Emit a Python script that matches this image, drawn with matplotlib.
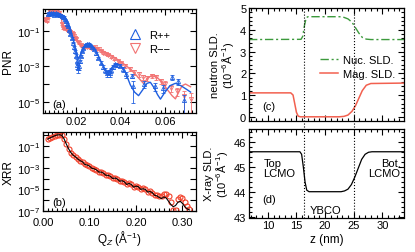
import numpy as np
import matplotlib
matplotlib.use('Agg')
import matplotlib.pyplot as plt
from matplotlib.lines import Line2D
from matplotlib.ticker import FixedLocator, MultipleLocator, FuncFormatter, NullLocator

plt.rcParams['font.family'] = ['Liberation Sans', 'DejaVu Sans']
plt.rcParams['mathtext.fontset'] = 'custom'
plt.rcParams['mathtext.rm'] = 'Liberation Sans'
plt.rcParams['mathtext.it'] = 'Liberation Sans:italic'
plt.rcParams['font.size'] = 8

# (a) PNR: R++ data and fit
pp_q = [0.0075, 0.0080, 0.0085, 0.0090, 0.0095, 0.0100, 0.0105, 0.0110, 0.0115, 0.0120,
        0.0125, 0.0130, 0.0135, 0.0140, 0.0145, 0.0150, 0.0155, 0.0160, 0.0165, 0.0170,
        0.0175, 0.0180, 0.0185, 0.0190, 0.0195, 0.0200, 0.0203, 0.0206, 0.0209, 0.0212,
        0.0216, 0.0220, 0.0226, 0.0232, 0.0240, 0.0248, 0.0256, 0.0264, 0.0272, 0.0280,
        0.0290, 0.0300, 0.0310, 0.0320, 0.0330, 0.0337, 0.0343, 0.0350, 0.0358, 0.0366,
        0.0375, 0.0385, 0.0395, 0.0410, 0.0425, 0.0450, 0.0453, 0.0503, 0.0555, 0.0590,
        0.0630, 0.0658, 0.0685]
pp_r = [0.95, 1.1, 0.9, 1.0, 1.05, 0.85, 0.95, 1.0, 0.9, 0.95,
        0.85, 0.8, 0.75, 0.65, 0.6, 0.45, 0.35, 0.25, 0.18, 0.11,
        0.07, 0.04, 0.022, 0.012, 0.007, 0.004, 0.002, 0.0012, 0.0008, 0.0011,
        0.002, 0.004, 0.007, 0.011, 0.016, 0.019, 0.018, 0.016, 0.012, 0.009,
        0.0055, 0.003, 0.0016, 0.0009, 0.0006, 0.0004, 0.0005, 0.0004, 0.0006, 0.0009,
        0.0013, 0.0012, 0.0011, 0.0007, 0.00035, 0.0003, 8e-5, 1e-4, 8e-5, 6e-5,
        2.5e-4, 1.4e-4, 1.2e-5]
pp_err = [0.1, 0.1, 0.1, 0.1, 0.1, 0.1, 0.1, 0.1, 0.1, 0.1,
          0.1, 0.1, 0.1, 0.1, 0.1, 0.1, 0.1, 0.1, 0.1, 0.1,
          0.1, 0.1, 0.1, 0.15, 0.15, 0.2, 0.3, 0.4, 0.5, 0.4,
          0.2, 0.15, 0.1, 0.1, 0.1, 0.1, 0.1, 0.1, 0.1, 0.1,
          0.15, 0.15, 0.2, 0.25, 0.3, 0.35, 0.3, 0.35, 0.3, 0.25,
          0.2, 0.2, 0.2, 0.3, 0.4, 0.3, 0.9, 0.4, 0.5, 0.5,
          0.3, 0.4, 0.99]
pp_fit_q = [0.0072, 0.0090, 0.0110, 0.0130, 0.0145, 0.0155, 0.0165, 0.0175, 0.0185, 0.0195,
            0.0203, 0.0210, 0.0216, 0.0225, 0.0240, 0.0255, 0.0270, 0.0285, 0.0300, 0.0315,
            0.0330, 0.0343, 0.0355, 0.0370, 0.0385, 0.0400, 0.0420, 0.0443, 0.0462, 0.0480,
            0.0500, 0.0518, 0.0533, 0.0550, 0.0565, 0.0578, 0.0595, 0.0620, 0.0645, 0.0670,
            0.0695, 0.0713]
pp_fit_r = [1.0, 1.05, 1.0, 0.9, 0.7, 0.5, 0.3, 0.13, 0.045, 0.013,
            0.005, 0.0028, 0.0035, 0.007, 0.015, 0.02, 0.016, 0.009, 0.004, 0.0015,
            0.0006, 0.00045, 0.0007, 0.0012, 0.0014, 0.0011, 0.0005, 9e-5, 3.5e-5, 2.2e-5,
            5e-5, 1.1e-4, 1.25e-4, 6e-5, 2.5e-5, 1.4e-5, 3e-5, 8e-5, 1.1e-4, 8e-5,
            5e-5, 3.5e-5]

# (a) PNR: R-- data and fit
mm_q = [0.0060, 0.0065, 0.0070, 0.0075, 0.0080, 0.0085, 0.0090, 0.0095, 0.0100, 0.0105,
        0.0110, 0.0115, 0.0120, 0.0125, 0.0130, 0.0135, 0.0140, 0.0145, 0.0150, 0.0155,
        0.0160, 0.0165, 0.0170, 0.0175, 0.0180, 0.0185, 0.0190, 0.0195, 0.0200, 0.0207,
        0.0214, 0.0221, 0.0228, 0.0235, 0.0242, 0.0250, 0.0258, 0.0266, 0.0275, 0.0284,
        0.0293, 0.0302, 0.0312, 0.0322, 0.0333, 0.0345, 0.0358, 0.0372, 0.0387, 0.0402,
        0.0420, 0.0440, 0.0460, 0.0480, 0.0500, 0.0520, 0.0540, 0.0560, 0.0580, 0.0600,
        0.0625, 0.0650, 0.0685, 0.0715]
mm_r = [0.4, 0.5, 0.35, 0.6, 0.9, 1.2, 1.3, 1.1, 1.25, 1.4,
        1.2, 1.3, 1.1, 1.0, 0.7, 0.25, 0.15, 0.14, 0.16, 0.13,
        0.12, 0.11, 0.10, 0.09, 0.08, 0.07, 0.05, 0.04, 0.035, 0.025,
        0.02, 0.016, 0.013, 0.012, 0.013, 0.013, 0.012, 0.011, 0.011, 0.012,
        0.010, 0.009, 0.0075, 0.006, 0.005, 0.0045, 0.0035, 0.0027, 0.002, 0.0015,
        0.0011, 7e-4, 4.5e-4, 3.5e-4, 2.5e-4, 2.2e-4, 3e-4, 2.5e-4, 1.5e-4, 1e-4,
        6e-5, 4e-5, 2e-5, 1.5e-5]
mm_err = [0.1] * 30 + [0.1, 0.1, 0.1, 0.1, 0.1, 0.1, 0.1, 0.1, 0.1, 0.1,
                       0.1, 0.1, 0.15, 0.15, 0.15, 0.15, 0.2, 0.2, 0.2, 0.2,
                       0.25, 0.25, 0.3, 0.3, 0.3, 0.3, 0.3, 0.3, 0.35, 0.4,
                       0.4, 0.5, 0.99, 0.99]
mm_fit_q = [0.0062, 0.0075, 0.0090, 0.0110, 0.0125, 0.0132, 0.0137, 0.0145, 0.0160, 0.0175,
            0.0190, 0.0205, 0.0220, 0.0235, 0.0250, 0.0265, 0.0280, 0.0295, 0.0310, 0.0330,
            0.0353, 0.0383, 0.0413, 0.0443, 0.0465, 0.0488, 0.0503, 0.0521, 0.0540, 0.0563,
            0.0585, 0.0608, 0.0630, 0.0645, 0.0660, 0.0675, 0.0690, 0.0713]
mm_fit_r = [0.45, 0.7, 1.2, 1.35, 1.25, 0.9, 0.3, 0.16, 0.12, 0.09,
            0.055, 0.03, 0.017, 0.013, 0.013, 0.012, 0.012, 0.0105, 0.0085, 0.0065,
            0.0045, 0.0026, 0.0014, 7e-4, 3.7e-4, 1.7e-4, 1.05e-4, 2.2e-4, 3e-4, 2.4e-4,
            1.25e-4, 5e-5, 2.2e-5, 1.45e-5, 3.5e-5, 8e-5, 1.0e-4, 7e-5]

# (b) XRR: data and fit (log10 of reflectivity)
xrr_q = [0.010, 0.015, 0.020, 0.025, 0.030, 0.035, 0.040, 0.045, 0.050, 0.055,
         0.060, 0.065, 0.070, 0.075, 0.080, 0.085, 0.090, 0.095, 0.100, 0.105,
         0.110, 0.115, 0.120, 0.125, 0.130, 0.135, 0.140, 0.145, 0.150, 0.155,
         0.160, 0.165, 0.170, 0.175, 0.180, 0.185, 0.190, 0.195, 0.200, 0.205,
         0.210, 0.215, 0.220, 0.225, 0.230, 0.235, 0.240, 0.245, 0.250, 0.255,
         0.260, 0.265, 0.270, 0.275, 0.280, 0.285, 0.290, 0.295, 0.300, 0.305,
         0.310, 0.315]
xrr_data_log = [-0.35, -0.25, -0.12, -0.05, 0.03, 0.06, 0.02, -0.3, -0.8, -1.25,
                -1.6, -1.85, -2.0, -2.2, -2.35, -2.45, -2.65, -2.75, -2.85, -3.0,
                -3.1, -3.2, -3.35, -3.4, -3.5, -3.65, -3.7, -3.8, -3.95, -3.95,
                -4.05, -4.2, -4.2, -4.3, -4.5, -4.45, -4.55, -4.75, -4.7, -4.75,
                -4.95, -4.9, -5.0, -5.2, -5.15, -5.3, -5.5, -5.55, -5.65, -5.6,
                -5.45, -5.4, -5.6, -6.2, -6.9, -6.95, -5.9, -5.7, -5.8, -6.2,
                -6.5, -6.8]
xrr_fit_log = [-0.35, -0.25, -0.15, -0.05, 0.02, 0.05, 0.0, -0.3, -0.8, -1.25,
               -1.6, -1.85, -2.0, -2.2, -2.35, -2.45, -2.7, -2.75, -2.85, -3.05,
               -3.1, -3.2, -3.4, -3.4, -3.5, -3.7, -3.7, -3.8, -4.0, -3.95,
               -4.05, -4.25, -4.2, -4.3, -4.55, -4.45, -4.55, -4.8, -4.7, -4.75,
               -5.0, -4.95, -5.0, -5.25, -5.2, -5.3, -5.55, -5.6, -5.75, -5.85,
               -5.7, -5.8, -6.1, -6.4, -6.6, -6.5, -6.2, -6.1, -6.3, -6.6,
               -6.8, -6.9]

# (c) neutron SLD profiles
nuc_z = [6.7, 15.8, 16.1, 16.4, 16.7, 17.0, 22.5, 23.3, 24.0, 24.7, 25.3, 25.9, 26.5, 27.2, 28.0, 33.8]
nuc_sld = [3.55, 3.56, 3.7, 4.2, 4.55, 4.6, 4.6, 4.57, 4.5, 4.35, 4.1, 3.85, 3.65, 3.57, 3.55, 3.55]
mag_z = [6.7, 14.0, 14.4, 14.7, 15.0, 15.3, 15.7, 22.5, 23.3, 24.0, 24.7, 25.3, 25.9, 26.5, 27.2, 28.0, 33.8]
mag_sld = [1.1, 1.1, 1.0, 0.6, 0.2, 0.03, 0.0, 0.0, 0.02, 0.08, 0.25, 0.5, 0.85, 1.2, 1.45, 1.53, 1.55]

# (d) X-ray SLD profile
xr_z = [6.7, 15.6, 15.9, 16.2, 16.5, 16.8, 17.2, 22.8, 23.4, 24.0, 24.6, 25.2, 25.8, 26.4, 27.0, 27.6, 28.2, 33.8]
xr_sld = [45.6, 45.6, 45.5, 45.0, 44.4, 44.08, 44.02, 44.02, 44.05, 44.12, 44.3, 44.6, 44.95, 45.3, 45.5, 45.58, 45.6, 45.6]
interfaces = [16.4, 25.0]

blue = '#1f5fe0'
pink = '#f27373'
red = '#f2402a'
green = '#3c9a3c'
mag_col = '#f2604f'

W, H = 415, 253
fig = plt.figure(figsize=(W / 100, H / 100), dpi=100)


def box(l, t, r, b):
    return [l / W, 1 - b / H, (r - l) / W, (b - t) / H]


ax_a = fig.add_axes(box(43, 10, 195.5, 114))
ax_b = fig.add_axes(box(43, 133, 195.5, 212))
ax_c = fig.add_axes(box(249, 9, 404, 121.5))
ax_d = fig.add_axes(box(249, 130, 404, 218.5))


def log_fmt(v, pos):
    e = int(round(np.log10(v)))
    if e % 2 == 0:
        return ''
    return r'$\mathregular{10^{%d}}$' % e


for ax in (ax_a, ax_b, ax_c, ax_d):
    ax.tick_params(which='both', direction='in', top=True, right=True, labelsize=8, width=0.8)
    ax.tick_params(which='major', length=4, pad=2)
    ax.tick_params(which='minor', length=2)
    for s in ax.spines.values():
        s.set_linewidth(0.9)

# panel (a)
pp_q = np.array(pp_q); pp_r = np.array(pp_r); pp_err = np.array(pp_err)
mm_q = np.array(mm_q); mm_r = np.array(mm_r); mm_err = np.array(mm_err)
ax_a.errorbar(mm_q, mm_r, yerr=mm_r * mm_err, fmt='v', ms=3, mfc='none', mec=pink, ecolor=pink,
              mew=0.6, elinewidth=0.6, capsize=1.2, zorder=2)
ax_a.plot(mm_fit_q, mm_fit_r, color=pink, lw=1.0, zorder=3)
ax_a.errorbar(pp_q, pp_r, yerr=pp_r * pp_err, fmt='^', ms=3, mfc='none', mec=blue, ecolor=blue,
              mew=0.6, elinewidth=0.6, capsize=1.2, zorder=4)
ax_a.plot(pp_fit_q, pp_fit_r, color=blue, lw=1.0, zorder=5)
ax_a.set_yscale('log')
ax_a.set_xlim(0.0052, 0.0735)
ax_a.set_ylim(2.3e-6, 1.75)
ax_a.yaxis.set_major_locator(FixedLocator([10.0 ** e for e in range(0, -6, -1)]))
ax_a.yaxis.set_major_formatter(FuncFormatter(log_fmt))
ax_a.yaxis.set_minor_locator(NullLocator())
ax_a.xaxis.set_major_locator(MultipleLocator(0.02))
ax_a.xaxis.set_minor_locator(MultipleLocator(0.002))
ax_a.xaxis.set_major_formatter(FuncFormatter(lambda v, p: '%.2f' % v))
ax_a.set_ylabel('PNR', labelpad=2, fontsize=8.5)
ax_a.text(0.06, 0.04, '(a)', transform=ax_a.transAxes, ha='left', va='bottom')
handles = [Line2D([], [], ls='none', marker='^', ms=7, mfc='none', mec=blue, mew=0.8),
           Line2D([], [], ls='none', marker='v', ms=7, mfc='none', mec=pink, mew=0.8)]
ax_a.legend(handles, ['R++', 'R\u2212\u2212'], loc='upper left', bbox_to_anchor=(0.54, 0.84),
            frameon=False, handlelength=1.0, handletextpad=0.7, labelspacing=0.35,
            borderaxespad=0, fontsize=8)

# panel (b)
xrr_q = np.array(xrr_q)
ax_b.plot(xrr_q, 10.0 ** np.array(xrr_data_log), 'o', ms=3.6, mfc='none', mec=red, mew=0.8,
          zorder=2)
ax_b.plot(xrr_q, 10.0 ** np.array(xrr_fit_log), color='black', lw=0.8, zorder=3)
ax_b.set_yscale('log')
ax_b.set_xlim(0.0, 0.328)
ax_b.set_ylim(1e-7, 2.0)
ax_b.yaxis.set_major_locator(FixedLocator([10.0 ** e for e in range(0, -8, -1)]))
ax_b.yaxis.set_major_formatter(FuncFormatter(log_fmt))
ax_b.yaxis.set_minor_locator(NullLocator())
ax_b.xaxis.set_major_locator(MultipleLocator(0.1))
ax_b.xaxis.set_minor_locator(MultipleLocator(0.01))
ax_b.xaxis.set_major_formatter(FuncFormatter(lambda v, p: '%.2f' % v))
ax_b.tick_params(axis='x', which='major', pad=4)
ax_b.set_ylabel('XRR', labelpad=2, fontsize=8.5)
ax_b.set_xlabel(r'Q$_Z$ ($\mathregular{\AA^{-1}}$)', labelpad=1, fontsize=8.5)
ax_b.text(0.06, 0.05, '(b)', transform=ax_b.transAxes, ha='left', va='bottom')

# panel (c)
ax_c.plot(nuc_z, nuc_sld, color=green, lw=1.0, ls=(0, (6, 2, 1.5, 2)), label='Nuc. SLD.')
ax_c.plot(mag_z, mag_sld, color=mag_col, lw=1.1, label='Mag. SLD.')
ax_c.set_xlim(6.7, 33.8)
ax_c.set_ylim(-0.17, 5.0)
ax_c.xaxis.set_major_locator(MultipleLocator(5))
ax_c.xaxis.set_minor_locator(MultipleLocator(1))
ax_c.yaxis.set_major_locator(MultipleLocator(1))
ax_c.yaxis.set_minor_locator(MultipleLocator(0.2))
ax_c.tick_params(labelbottom=False)
ax_c.set_ylabel('neutron SLD.\n' + r'($\mathregular{10^{-6}\AA^{-1}}$)', labelpad=3,
                linespacing=1.0, fontsize=8)
ax_c.text(9.1, 0.5, '(c)', ha='left', va='center')
ax_c.legend(loc='upper left', bbox_to_anchor=(0.43, 0.62), frameon=False, handlelength=1.6,
            handletextpad=0.5, labelspacing=0.3, borderaxespad=0, fontsize=8)
for z in interfaces:
    ax_c.axvline(z, ymin=-0.085, ymax=1, color='black', ls=':', lw=0.8, clip_on=False)

# panel (d)
ax_d.plot(xr_z, xr_sld, color='black', lw=0.9)
ax_d.set_xlim(6.7, 33.8)
ax_d.set_ylim(43.0, 46.5)
ax_d.xaxis.set_major_locator(MultipleLocator(5))
ax_d.xaxis.set_minor_locator(MultipleLocator(1))
ax_d.yaxis.set_major_locator(MultipleLocator(1))
ax_d.yaxis.set_minor_locator(MultipleLocator(0.2))
ax_d.set_ylabel('X-ray SLD.\n' + r'($\mathregular{10^{-6}\AA^{-1}}$)', labelpad=3,
                linespacing=1.0, fontsize=8)
ax_d.set_xlabel('z (nm)', labelpad=2, fontsize=8.5)
for z in interfaces:
    ax_d.axvline(z, color='black', ls=':', lw=0.8)
ax_d.text(9.2, 44.95, 'Top\nLCMO', ha='left', va='center', linespacing=1.0)
ax_d.text(33.2, 44.95, 'Bot.\nLCMO', ha='right', va='center', linespacing=1.0)
ax_d.text(20.0, 43.3, 'YBCO', ha='center', va='center')
ax_d.text(9.1, 43.75, '(d)', ha='left', va='center')

fig.savefig('out.png', dpi=100)
